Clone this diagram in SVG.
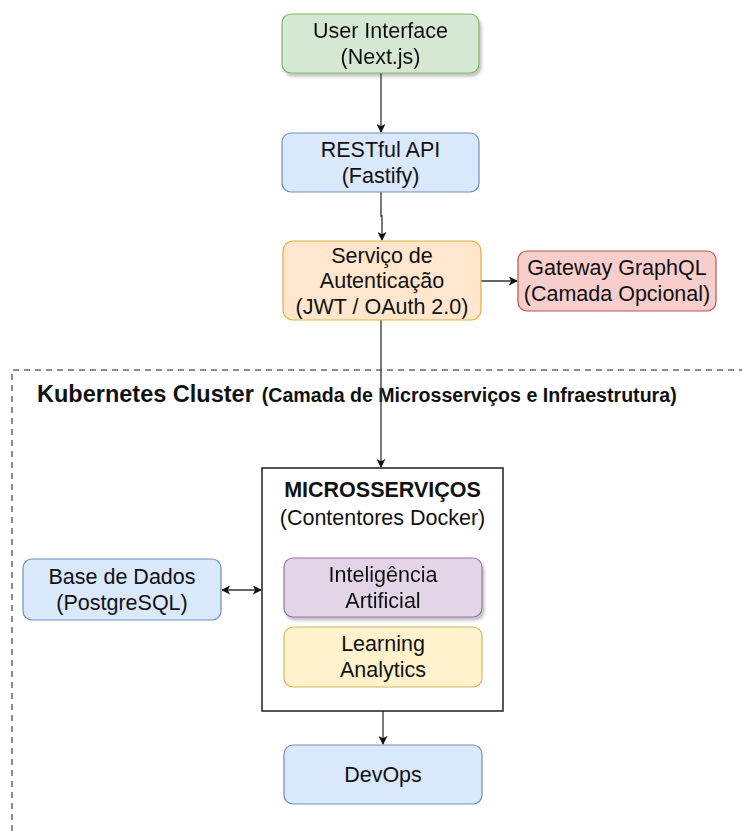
<svg xmlns="http://www.w3.org/2000/svg" width="742" height="831" viewBox="0 0 742 831">
<style>
text{font-family:"Liberation Sans",Arial,sans-serif;font-size:21.5px;fill:#111;text-anchor:middle}
.b{font-weight:bold}
.conn{stroke:#333;stroke-width:1.3;fill:none}
.node{stroke-width:1.2}
</style>
<defs>
<marker id="ah" viewBox="0 0 10 10" refX="9" refY="5" markerWidth="9" markerHeight="9" markerUnits="userSpaceOnUse" orient="auto-start-reverse">
<path d="M0,0 L10,5 L0,10 L2.5,5 Z" fill="#111"/>
</marker>
<filter id="sh" x="-10%" y="-10%" width="130%" height="140%">
<feGaussianBlur in="SourceAlpha" stdDeviation="1.6"/>
<feOffset dx="2" dy="3" result="o"/>
<feComponentTransfer><feFuncA type="linear" slope="0.25"/></feComponentTransfer>
<feMerge><feMergeNode/><feMergeNode in="SourceGraphic"/></feMerge>
</filter>
</defs>
<rect width="742" height="831" fill="#fff"/>

<g id="cluster">
<path d="M12,831 V370 H742" fill="none" stroke="#1a1a1a" stroke-width="1" stroke-dasharray="6,5"/>
<text x="37" y="402" style="text-anchor:start"><tspan class="b" font-size="23.5">Kubernetes Cluster</tspan><tspan class="b" font-size="19.6" dx="8">(Camada de Microsserviços e Infraestrutura)</tspan></text>
</g>

<g id="connectors">
<path class="conn" d="M381,73 V132" marker-end="url(#ah)"/>
<path class="conn" d="M381,192 V216 H382 V240" marker-end="url(#ah)"/>
<path class="conn" d="M481,281 H517" marker-end="url(#ah)"/>
<path class="conn" d="M381,320 V467" marker-end="url(#ah)"/>
<path class="conn" d="M222,590 H261" marker-start="url(#ah)" marker-end="url(#ah)"/>
<path class="conn" d="M383,711 V744" marker-end="url(#ah)"/>
</g>

<g id="ui" filter="url(#sh)">
<rect class="node" x="282" y="14" width="197" height="59" rx="9" fill="#d5e8d4" stroke="#82b366"/>
<text x="380.5" y="38">User Interface</text>
<text x="380.5" y="64">(Next.js)</text>
</g>

<g id="rest">
<rect class="node" x="282" y="133" width="197" height="59" rx="9" fill="#dae8fc" stroke="#6c8ebf"/>
<text x="380.5" y="157">RESTful API</text>
<text x="380.5" y="183">(Fastify)</text>
</g>

<g id="auth">
<rect class="node" x="283" y="241" width="198" height="79" rx="10" fill="#ffe6cc" stroke="#e0ae3a"/>
<text x="382" y="263">Serviço de</text>
<text x="382" y="288">Autenticação</text>
<text x="382" y="314">(JWT / OAuth 2.0)</text>
</g>

<g id="gateway">
<rect class="node" x="518" y="251" width="198" height="60" rx="9" fill="#f8cecc" stroke="#b85450"/>
<text x="617" y="275">Gateway GraphQL</text>
<text x="617" y="301">(Camada Opcional)</text>
</g>

<g id="micro">
<rect x="262" y="468" width="241" height="243" fill="#fff" stroke="#111" stroke-width="1.4"/>
<text class="b" x="382.5" y="497" font-size="23.5">MICROSSERVIÇOS</text>
<text x="382.5" y="525" font-size="18.5" fill="#222">(Contentores Docker)</text>
</g>

<g id="ia" filter="url(#sh)">
<rect class="node" x="284" y="558" width="198" height="59" rx="9" fill="#e1d5e7" stroke="#9673a6"/>
<text x="383" y="582">Inteligência</text>
<text x="383" y="608">Artificial</text>
</g>

<g id="la">
<rect class="node" x="284" y="627" width="198" height="60" rx="9" fill="#fff2cc" stroke="#d6b656"/>
<text x="383" y="651">Learning</text>
<text x="383" y="677">Analytics</text>
</g>

<g id="db">
<rect class="node" x="23" y="559" width="198" height="61" rx="9" fill="#dae8fc" stroke="#6c8ebf"/>
<text x="122" y="584">Base de Dados</text>
<text x="122" y="610">(PostgreSQL)</text>
</g>

<g id="devops">
<rect class="node" x="284" y="745" width="198" height="59" rx="9" fill="#dae8fc" stroke="#6c8ebf"/>
<text x="383" y="782">DevOps</text>
</g>
</svg>
